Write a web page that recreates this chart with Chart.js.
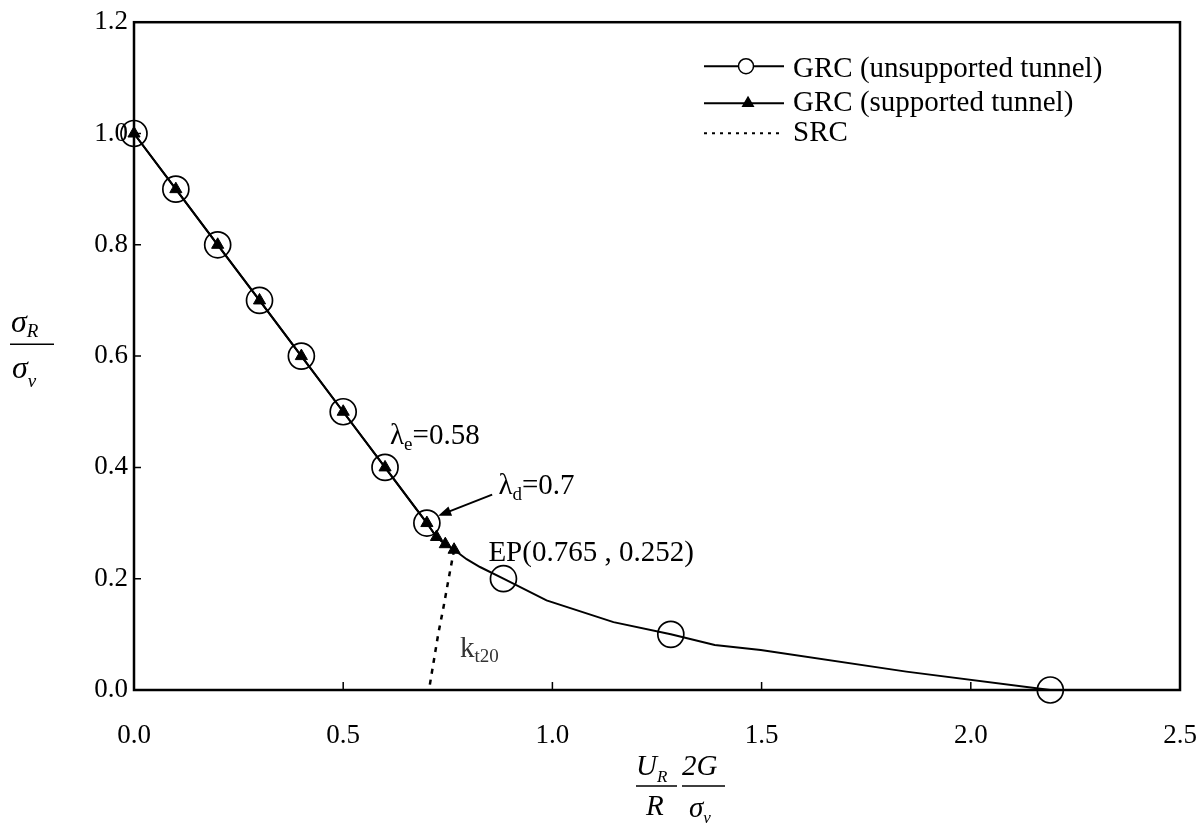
<!DOCTYPE html>
<html lang="en">
<head>
<meta charset="UTF-8">
<title>GRC / SRC</title>
<script src="https://cdn.jsdelivr.net/npm/chart.js@4.4.0/dist/chart.umd.min.js"></script>
<style>
  html, body { margin: 0; padding: 0; background: #fff; }
  #wrap { width: 1204px; height: 825px; }
</style>
</head>
<body>
<div id="wrap"><canvas id="grcChart" width="1204" height="825"></canvas></div>
<script>
// GRC of the unsupported tunnel (line)
var grcX = [0, 0.1, 0.2, 0.3, 0.4, 0.5, 0.6, 0.7, 0.723, 0.744, 0.765, 0.795, 0.827, 0.883, 0.986, 1.146, 1.283, 1.388, 1.498, 1.846, 2.19];
var grcY = [1.0, 0.9, 0.8, 0.7, 0.6, 0.5, 0.4, 0.3, 0.275, 0.262, 0.252, 0.235, 0.221, 0.2, 0.161, 0.122, 0.1, 0.081, 0.072, 0.033, 0.0];
// open circles along that curve
var markX = [0, 0.1, 0.2, 0.3, 0.4, 0.5, 0.6, 0.7, 0.883, 1.283, 2.19];
var markY = [1.0, 0.9, 0.8, 0.7, 0.6, 0.5, 0.4, 0.3, 0.2, 0.1, 0.0];
// GRC of the supported tunnel, ends at the equilibrium point
var supX = [0, 0.1, 0.2, 0.3, 0.4, 0.5, 0.6, 0.7, 0.723, 0.744, 0.765];
var supY = [1.0, 0.9, 0.8, 0.7, 0.6, 0.5, 0.4, 0.3, 0.275, 0.262, 0.252];
// support reaction curve
var srcX = [0.765, 0.752, 0.74, 0.727, 0.716, 0.705];
var srcY = [0.252, 0.2, 0.15, 0.1, 0.05, 0.0];

var xTicks = [0, 0.5, 1.0, 1.5, 2.0, 2.5];
var yTicks = [0, 0.2, 0.4, 0.6, 0.8, 1.0, 1.2];

var serif = '"Liberation Serif", "Times New Roman", serif';

function pts(xs, ys) {
  return xs.map(function (x, i) { return { x: x, y: ys[i] }; });
}

// text with a lowered subscript, returns the x after it
function subText(ctx, base, sub, x, y, size, subSize, drop, italic) {
  var st = italic ? 'italic ' : '';
  ctx.font = st + size + 'px ' + serif;
  ctx.fillText(base, x, y);
  x += ctx.measureText(base).width;
  ctx.font = st + subSize + 'px ' + serif;
  ctx.fillText(sub, x, y + drop);
  return x + ctx.measureText(sub).width;
}

// box round the plot and inward tick marks
var frame = {
  id: 'frame',
  beforeDatasetsDraw: function (chart) {
    var ctx = chart.ctx, a = chart.chartArea;
    var xs = chart.scales.x, ys = chart.scales.y;
    ctx.save();
    ctx.strokeStyle = '#000';
    ctx.lineWidth = 2.5;
    ctx.strokeRect(a.left, a.top, a.right - a.left, a.bottom - a.top);
    ctx.lineWidth = 1.5;
    ctx.beginPath();
    yTicks.slice(1, -1).forEach(function (v) {
      var py = ys.getPixelForValue(v);
      ctx.moveTo(a.left, py);
      ctx.lineTo(a.left + 7, py);
    });
    xTicks.slice(1, -1).forEach(function (v) {
      var px = xs.getPixelForValue(v);
      ctx.moveTo(px, a.bottom);
      ctx.lineTo(px, a.bottom - 8);
    });
    ctx.stroke();
    ctx.restore();
  }
};

// fraction-style axis titles
var axisTitles = {
  id: 'axisTitles',
  afterDraw: function (chart) {
    var ctx = chart.ctx, a = chart.chartArea;
    ctx.save();
    ctx.fillStyle = '#000';
    ctx.strokeStyle = '#000';
    ctx.lineWidth = 1.5;
    ctx.textBaseline = 'alphabetic';
    ctx.textAlign = 'left';

    // sigma_R / sigma_v
    var tx = 10, ty = a.top + 310;
    subText(ctx, 'σ', 'R', tx + 1, ty, 32, 19, 5, true);
    ctx.beginPath();
    ctx.moveTo(tx, ty + 12);
    ctx.lineTo(tx + 44, ty + 12);
    ctx.stroke();
    subText(ctx, 'σ', 'v', tx + 2, ty + 46, 32, 19, 9, true);

    // U_R / R  *  2G / sigma_v
    var bx = 636, by = a.bottom + 96;
    subText(ctx, 'U', 'R', bx, by - 11, 29, 17, 7, true);
    ctx.beginPath();
    ctx.moveTo(bx, by);
    ctx.lineTo(bx + 41, by);
    ctx.moveTo(bx + 46, by);
    ctx.lineTo(bx + 89, by);
    ctx.stroke();
    ctx.font = 'italic 29px ' + serif;
    ctx.fillText('R', bx + 10, by + 29);
    ctx.fillText('2G', bx + 46, by - 11);
    subText(ctx, 'σ', 'v', bx + 53, by + 31, 29, 17, 6, true);
    ctx.restore();
  }
};

// λ labels, arrow, EP and k_t20
var notes = {
  id: 'notes',
  afterDraw: function (chart) {
    var ctx = chart.ctx;
    var xs = chart.scales.x, ys = chart.scales.y;
    function P(x, y) { return [xs.getPixelForValue(x), ys.getPixelForValue(y)]; }
    ctx.save();
    ctx.fillStyle = '#000';
    ctx.textAlign = 'left';
    ctx.textBaseline = 'alphabetic';

    var p = P(0.612, 0.442);
    var nx = subText(ctx, 'λ', 'e', p[0], p[1], 29, 19, 6, false);
    ctx.font = '29px ' + serif;
    ctx.fillText('=0.58', nx, p[1]);

    p = P(0.871, 0.353);
    nx = subText(ctx, 'λ', 'd', p[0], p[1], 29, 19, 6, false);
    ctx.font = '29px ' + serif;
    ctx.fillText('=0.7', nx, p[1]);

    // arrow to the λd point
    var s = P(0.856, 0.351), t = P(0.727, 0.313);
    var ang = Math.atan2(t[1] - s[1], t[0] - s[0]);
    ctx.strokeStyle = '#000';
    ctx.lineWidth = 2;
    ctx.beginPath();
    ctx.moveTo(s[0], s[1]);
    ctx.lineTo(t[0] - 10 * Math.cos(ang), t[1] - 10 * Math.sin(ang));
    ctx.stroke();
    ctx.beginPath();
    ctx.moveTo(t[0], t[1]);
    ctx.lineTo(t[0] - 13 * Math.cos(ang) + 5 * Math.sin(ang), t[1] - 13 * Math.sin(ang) - 5 * Math.cos(ang));
    ctx.lineTo(t[0] - 13 * Math.cos(ang) - 5 * Math.sin(ang), t[1] - 13 * Math.sin(ang) + 5 * Math.cos(ang));
    ctx.closePath();
    ctx.fill();

    p = P(0.847, 0.231);
    ctx.font = '29px ' + serif;
    ctx.fillText('EP(0.765 , 0.252)', p[0], p[1]);

    p = P(0.779, 0.06);
    ctx.fillStyle = '#333';
    subText(ctx, 'k', 't20', p[0], p[1], 29, 19, 5, false);
    ctx.restore();
  }
};

// legend in the upper right: line, marker, label
var legendBox = {
  id: 'legendBox',
  afterDraw: function (chart) {
    var ctx = chart.ctx, a = chart.chartArea;
    var x0 = a.right - 476, x1 = a.right - 396, tx = a.right - 387;
    var rows = [a.top + 44, a.top + 81, a.top + 111];
    ctx.save();
    ctx.strokeStyle = '#000';
    ctx.fillStyle = '#000';
    ctx.lineWidth = 2;
    ctx.font = '29px ' + serif;
    ctx.textBaseline = 'middle';
    ctx.textAlign = 'left';

    ctx.beginPath();
    ctx.moveTo(x0, rows[0]); ctx.lineTo(x1, rows[0]);
    ctx.moveTo(x0, rows[1]); ctx.lineTo(x1, rows[1]);
    ctx.stroke();
    ctx.setLineDash([3, 5]);
    ctx.beginPath();
    ctx.moveTo(x0, rows[2]); ctx.lineTo(x1, rows[2]);
    ctx.stroke();
    ctx.setLineDash([]);

    var mx = (x0 + x1) / 2 + 2;
    ctx.fillStyle = '#fff';
    ctx.lineWidth = 1.5;
    Chart.helpers.drawPoint(ctx, { pointStyle: 'circle', radius: 7.5, rotation: 0, borderWidth: 1.5 }, mx, rows[0]);
    ctx.fillStyle = '#000';
    Chart.helpers.drawPoint(ctx, { pointStyle: 'triangle', radius: 6, rotation: 0, borderWidth: 1 }, mx + 2, rows[1]);

    ctx.fillStyle = '#000';
    ctx.fillText('GRC (unsupported tunnel)', tx, rows[0] + 3);
    ctx.fillText('GRC (supported tunnel)', tx, rows[1]);
    ctx.fillText('SRC', tx, rows[2]);
    ctx.restore();
  }
};

var chart = new Chart(document.getElementById('grcChart').getContext('2d'), {
  type: 'scatter',
  data: {
    datasets: [
      {
        label: 'GRC (supported tunnel)',
        data: pts(supX, supY),
        showLine: true,
        borderColor: '#000',
        borderWidth: 2,
        pointStyle: 'triangle',
        pointRadius: 7,
        pointBackgroundColor: '#000',
        pointBorderColor: '#000',
        pointBorderWidth: 1,
        clip: false
      },
      {
        label: 'GRC (unsupported tunnel) markers',
        data: pts(markX, markY),
        showLine: false,
        pointStyle: 'circle',
        pointRadius: 13,
        pointBackgroundColor: 'rgba(0,0,0,0)',
        pointBorderColor: '#000',
        pointBorderWidth: 1.7,
        clip: false
      },
      {
        label: 'GRC (unsupported tunnel)',
        data: pts(grcX, grcY),
        showLine: true,
        borderColor: '#000',
        borderWidth: 2,
        pointRadius: 0,
        clip: false
      },
      {
        label: 'SRC',
        data: pts(srcX, srcY),
        showLine: true,
        borderColor: '#000',
        borderWidth: 2.5,
        borderDash: [5, 6],
        pointRadius: 0,
        clip: false
      }
    ]
  },
  options: {
    responsive: false,
    devicePixelRatio: 1,
    animation: false,
    layout: { padding: { top: 10, right: 0, left: 0, bottom: 0 } },
    plugins: { legend: { display: false }, tooltip: { enabled: false } },
    scales: {
      x: {
        type: 'linear',
        min: 0,
        max: 2.5,
        afterBuildTicks: function (s) { s.ticks = xTicks.map(function (v) { return { value: v }; }); },
        afterFit: function (s) { s.height = 135; s.paddingRight = 24; },
        grid: { display: false, drawTicks: false },
        border: { display: false },
        ticks: {
          padding: 30,
          color: '#000',
          font: { family: serif, size: 27 },
          callback: function (v) { return Number(v).toFixed(1); }
        }
      },
      y: {
        type: 'linear',
        min: 0,
        max: 1.2,
        afterBuildTicks: function (s) { s.ticks = yTicks.map(function (v) { return { value: v }; }); },
        afterFit: function (s) { s.width = 134; },
        grid: { display: false, drawTicks: false },
        border: { display: false },
        ticks: {
          padding: 6,
          color: '#000',
          font: { family: serif, size: 27 },
          callback: function (v) { return Number(v).toFixed(1); }
        }
      }
    }
  },
  plugins: [frame, axisTitles, notes, legendBox]
});
</script>
</body>
</html>
